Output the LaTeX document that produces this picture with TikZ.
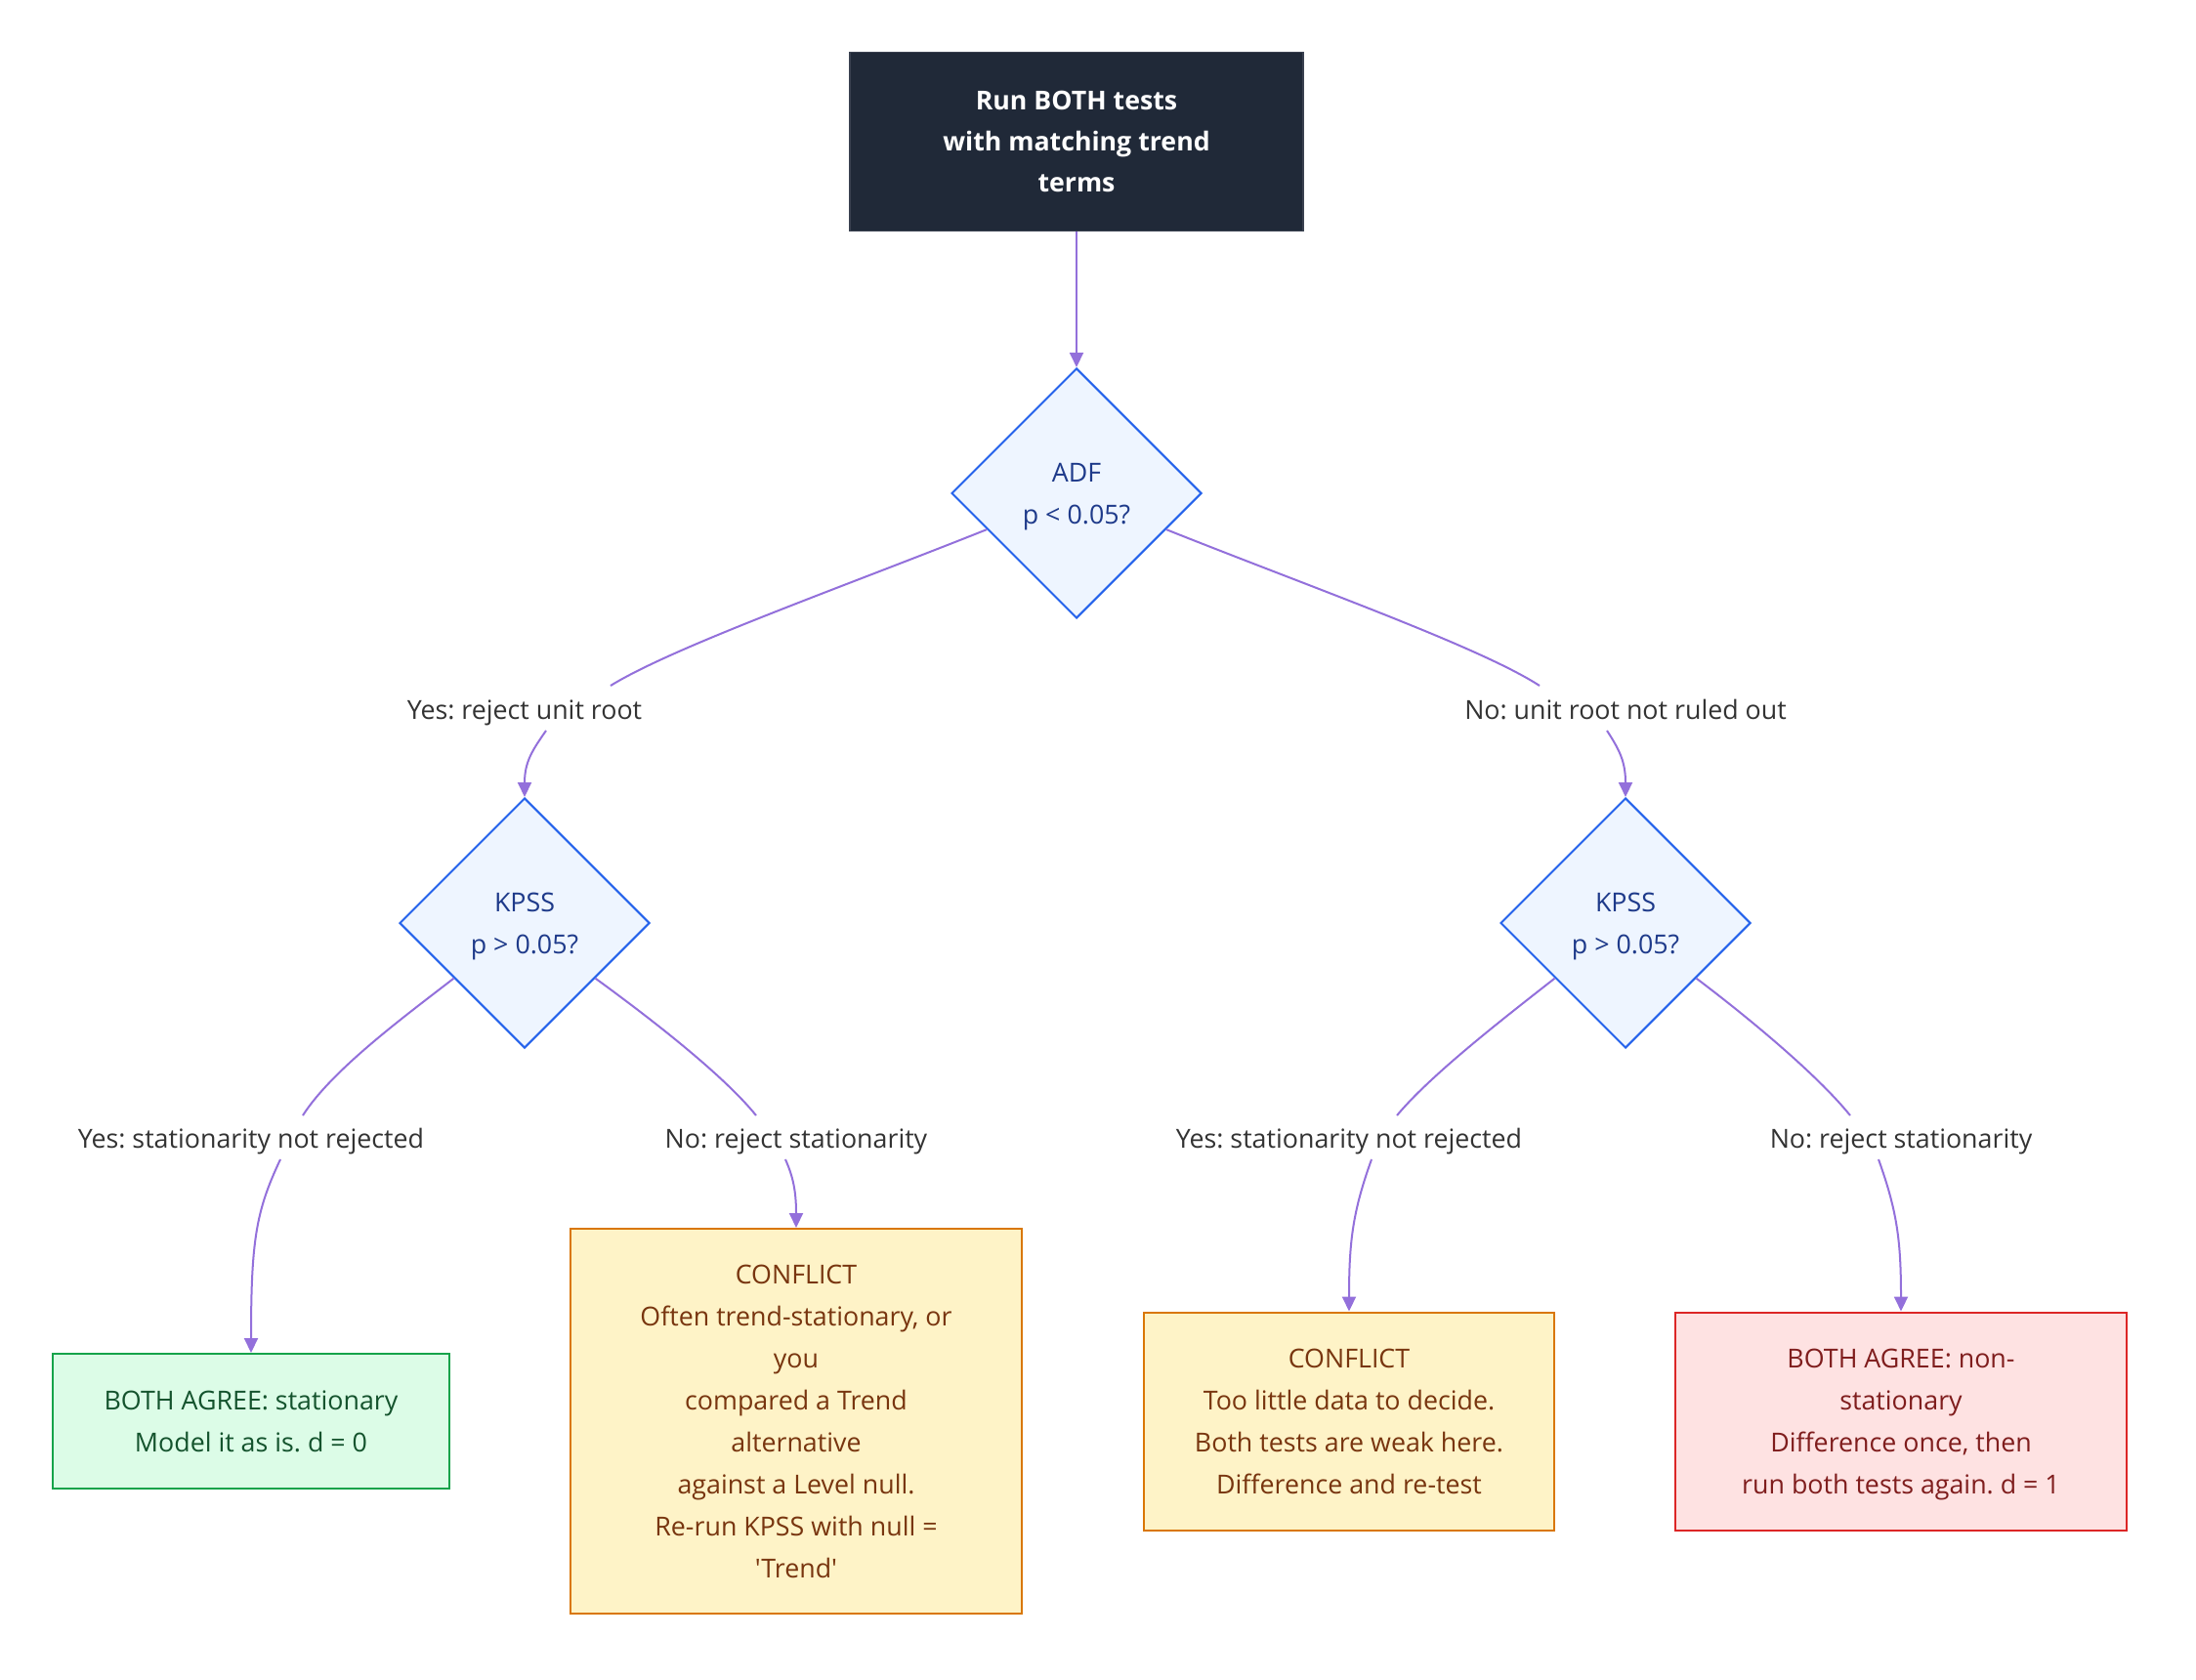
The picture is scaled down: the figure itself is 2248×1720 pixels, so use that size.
\documentclass[tikz,border=0pt]{standalone}
\usepackage{fontspec}
\newfontfamily\uifont{Open Sans}
\usetikzlibrary{shapes.geometric,arrows.meta}
\definecolor{edgec}{HTML}{9370DB}
\definecolor{startfill}{HTML}{202938}
\definecolor{startdraw}{HTML}{3A4150}
\definecolor{decfill}{HTML}{EEF5FF}
\definecolor{decdraw}{HTML}{2563EB}
\definecolor{dectext}{HTML}{1E3A8A}
\definecolor{okfill}{HTML}{DCFCE7}
\definecolor{okdraw}{HTML}{16A34A}
\definecolor{oktext}{HTML}{14532D}
\definecolor{warnfill}{HTML}{FEF3C7}
\definecolor{warndraw}{HTML}{D97706}
\definecolor{warntext}{HTML}{78350F}
\definecolor{badfill}{HTML}{FEE2E2}
\definecolor{baddraw}{HTML}{DC2626}
\definecolor{badtext}{HTML}{7F1D1D}
\definecolor{lbltext}{HTML}{333333}
\newcommand\linestrut{\rule[-12pt]{0pt}{43pt}}
\frenchspacing
\begin{document}
\begin{tikzpicture}[x=1pt,y=-1pt,
  txt/.style={font=\uifont\frenchspacing\fontsize{26.8}{43}\selectfont, align=center, inner sep=0pt,
    execute at end node=\linestrut},
  startbox/.style={rectangle, fill=startfill, draw=startdraw, line width=1.5pt, text=white,
    font=\uifont\bfseries\fontsize{26.7}{42}\selectfont, align=center, inner sep=0pt,
    execute at end node=\linestrut,
    minimum width=464pt, minimum height=183pt},
  dec/.style={diamond, aspect=1, txt, fill=decfill, draw=decdraw, line width=2pt, text=dectext,
    minimum width=256pt, minimum height=256pt},
  okbox/.style={rectangle, txt, fill=okfill, draw=okdraw, line width=2pt, text=oktext},
  warnbox/.style={rectangle, txt, fill=warnfill, draw=warndraw, line width=2pt, text=warntext},
  badbox/.style={rectangle, txt, fill=badfill, draw=baddraw, line width=2pt, text=badtext},
  lbl/.style={txt, text=lbltext},
  edge/.style={draw=edgec, line width=2pt},
  arr/.style={edge, -{Triangle[length=15pt,width=14pt]}}
]
\useasboundingbox[fill=white] (0,0) rectangle (2248,1720);

\node[startbox] (start) at (1102,145) {\linestrut Run BOTH tests\\with matching trend\\terms};
\node[dec] (adf) at (1102,505) {\linestrut ADF\\p < 0.05?};
\node[dec] (k1) at (537,945) {\linestrut KPSS\\p > 0.05?};
\node[dec] (k2) at (1664,945) {\linestrut KPSS\\p > 0.05?};

\node[lbl] (l1) at (537,727) {Yes: reject unit root};
\node[lbl] (l2) at (1664,727) {No: unit root not ruled out};
\node[lbl] (l3) at (257,1166) {Yes: stationarity not rejected};
\node[lbl] (l4) at (815,1166) {No: reject stationarity};
\node[lbl] (l5) at (1381,1166) {Yes: stationarity not rejected};
\node[lbl] (l6) at (1946,1166) {No: reject stationarity};

\node[okbox, minimum width=406pt, minimum height=138pt] (g) at (257,1455)
  {\linestrut BOTH AGREE: stationary\\Model it as is. d = 0};
\node[warnbox, minimum width=462pt, minimum height=394pt] (c1) at (815,1455)
  {\linestrut CONFLICT\\Often trend-stationary, or\\you\\compared a Trend\\alternative\\against a Level null.\\Re-run KPSS with null =\\'Trend'};
\node[warnbox, minimum width=420pt, minimum height=223pt] (c2) at (1381,1455)
  {\linestrut CONFLICT\\Too little data to decide.\\Both tests are weak here.\\Difference and re-test};
\node[badbox, minimum width=462pt, minimum height=223pt] (r) at (1946,1455)
  {\linestrut BOTH AGREE: non-\\stationary\\Difference once, then\\run both tests again. d = 1};

% start -> ADF
\draw[arr] (start.south) -- (adf.north);

% ADF -> yes
\draw[edge] (adf.202) .. controls (860,602) and (690,662) .. ([shift={(88,-25)}]l1.center);
\draw[arr] ([shift={(22,21)}]l1.center) .. controls (545,768) and (537,780) .. (k1.north);
% ADF -> no
\draw[edge] (adf.338) .. controls (1344,602) and (1514,662) .. ([shift={(-88,-25)}]l2.center);
\draw[arr] ([shift={(-19,21)}]l2.center) .. controls (1658,768) and (1664,780) .. (k2.north);

% k1 -> yes
\draw[edge] (k1.218) .. controls (415,1040) and (340,1095) .. ([shift={(53,-24)}]l3.center);
\draw[arr] ([shift={(30,21)}]l3.center) .. controls (262,1240) and (257,1270) .. (g.north);
% k1 -> no
\draw[edge] (k1.322) .. controls (665,1042) and (740,1100) .. ([shift={(-41,-24)}]l4.center);
\draw[arr] ([shift={(-11,21)}]l4.center) .. controls (812,1205) and (815,1220) .. (c1.north);

% k2 -> yes
\draw[edge] (k2.218) .. controls (1540,1042) and (1465,1100) .. ([shift={(49,-24)}]l5.center);
\draw[arr] ([shift={(23,21)}]l5.center) .. controls (1385,1240) and (1381,1270) .. (c2.north);
% k2 -> no
\draw[edge] (k2.322) .. controls (1790,1042) and (1860,1100) .. ([shift={(-52,-24)}]l6.center);
\draw[arr] ([shift={(-23,21)}]l6.center) .. controls (1942,1240) and (1946,1270) .. (r.north);
\end{tikzpicture}
\end{document}
